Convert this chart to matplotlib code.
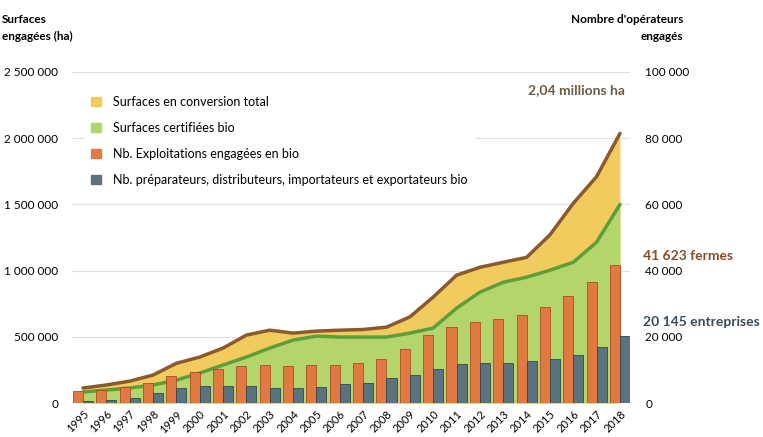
import matplotlib.pyplot as plt
import numpy as np

plt.rcParams['font.family'] = ['Lato', 'DejaVu Sans']

annees = list(range(1995, 2019))

# surfaces (ha), axe de gauche
surf_total = [113000, 136000, 165000, 211000, 300000, 347000, 415000, 513000, 550000, 528000,
              543000, 550000, 555000, 573000, 650000, 800000, 965000, 1025000, 1063000, 1100000,
              1270000, 1508000, 1710000, 2036000]
surf_certif = [83000, 98000, 113000, 136000, 173000, 226000, 287000, 347000, 415000, 475000,
               505000, 498000, 498000, 498000, 528000, 566000, 716000, 837000, 912000, 950000,
               1003000, 1063000, 1215000, 1500000]

# nombre d'operateurs, axe de droite
nb_exploit = [3500, 3800, 4800, 6100, 8100, 9300, 10400, 11200, 11400, 11100,
              11400, 11600, 12000, 13300, 16400, 20600, 23100, 24400, 25500, 26500,
              28900, 32300, 36700, 41623]
nb_prepa = [600, 1000, 1600, 2900, 4400, 5200, 5100, 5100, 4600, 4600,
            4700, 5600, 6100, 7500, 8500, 10200, 11800, 12000, 12200, 12600,
            13200, 14500, 17000, 20145]

jaune = '#F2CB5E'
vert = '#B3D56B'
brun = '#8A5A2C'
vert_fonce = '#5E9E3A'
orange = '#E07A42'
bleu = '#5A737D'

fig = plt.figure(figsize=(7.63, 4.37), dpi=100)
ax = fig.add_axes([72/763, 34/437, 558/763, 331/437])
ax2 = ax.twinx()

x = np.arange(len(annees))

ax.fill_between(x, 0, surf_total, color=jaune, lw=0, zorder=1)
ax.fill_between(x, 0, surf_certif, color=vert, lw=0, zorder=2)
ax.plot(x, surf_total, color=brun, lw=2.5, zorder=3, solid_capstyle='round')
ax.plot(x, surf_certif, color=vert_fonce, lw=2.5, zorder=3, solid_capstyle='round')

ax.set_ylim(0, 2500000)
ax.set_yticks([0, 500000, 1000000, 1500000, 2000000, 2500000])
ax.set_yticklabels(['0', '500 000', '1 000 000', '1 500 000', '2 000 000', '2 500 000'], fontsize=8.5)
ax.grid(axis='y', color='#e2e2e2', lw=0.9, zorder=0)
ax.set_axisbelow(True)
ax.set_xlim(-0.47, 23.43)
ax.set_xticks(x)
ax.set_xticklabels([str(a) for a in annees], rotation=45, fontsize=8, ha='right', rotation_mode='anchor')
ax.tick_params(length=0, pad=10)
ax.tick_params(axis='x', pad=4)

w = 0.43
ax2.bar(x - w/2, nb_exploit, width=w, color=orange, edgecolor='#A84E22', lw=0.6, zorder=4)
ax2.bar(x + w/2, nb_prepa, width=w, color=bleu, edgecolor='#33474f', lw=0.6, zorder=4)
ax2.set_ylim(0, 100000)
ax2.set_yticks([0, 20000, 40000, 60000, 80000, 100000])
ax2.set_yticklabels(['0', '20 000', '40 000', '60 000', '80 000', '100 000'], fontsize=8.5)
ax2.tick_params(length=0, pad=11)

for a in (ax, ax2):
    for s in a.spines.values():
        s.set_visible(False)

# legende
handles = [plt.Rectangle((0, 0), 1, 1, color=c) for c in (jaune, vert, orange, bleu)]
labels = ['Surfaces en conversion total', 'Surfaces certifiées bio',
          'Nb. Exploitations engagées en bio',
          'Nb. préparateurs, distributeurs, importateurs et exportateurs bio']
leg = ax2.legend(handles, labels, loc='upper left', bbox_to_anchor=(0.01, 0.97),
                 frameon=True, fontsize=9, handlelength=0.8, handleheight=0.8,
                 handletextpad=0.9, labelspacing=1.12, borderpad=0.6)
leg.get_frame().set_edgecolor('white')
leg.get_frame().set_facecolor('white')
leg.get_frame().set_alpha(1)
leg.set_zorder(10)

fig.text(2/763, 1 - 28/437, 'Surfaces\nengagées (ha)', fontsize=8.5, fontweight='bold',
         va='center', ha='left', linespacing=1.6)
fig.text(683/763, 1 - 28/437, "Nombre d'opérateurs\nengagés", fontsize=8.5, fontweight='bold',
         va='center', ha='right', multialignment='right', linespacing=1.6)
fig.text(625/763, 1 - 90/437, '2,04 millions ha', fontsize=10, fontweight='bold',
         color='#6E5A48', ha='right', va='center')
fig.text(643/763, 1 - 256/437, '41 623 fermes', fontsize=10, fontweight='bold',
         color='#8A4A2A', ha='left', va='center')
fig.text(643/763, 1 - 322/437, '20 145 entreprises', fontsize=10, fontweight='bold',
         color='#3B4A55', ha='left', va='center')

fig.savefig('out.png', dpi=100)
